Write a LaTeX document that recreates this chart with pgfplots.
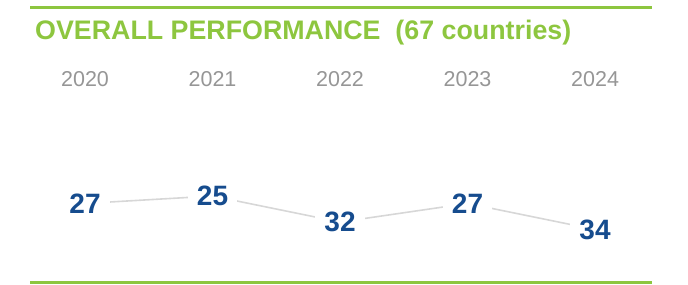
\documentclass[border=0pt]{standalone}
\usepackage{pgfplots}
\pgfplotsset{compat=1.18}
\usepackage{fontspec}
\setmainfont{Liberation Sans}
\definecolor{tgreen}{RGB}{141,198,63}
\definecolor{tblue}{RGB}{22,76,142}
\definecolor{ygray}{RGB}{150,150,150}
\definecolor{lgray}{RGB}{215,215,215}
\begin{document}
\begin{tikzpicture}
\begin{axis}[
  at={(0,0)}, anchor=south west,
  scale only axis, width=688bp, height=285bp,
  hide axis, clip=false,
  xmin=-0.6667, xmax=4.729,
  y dir=reverse, ymin=-27.69, ymax=48.92,
  /pgf/number format/assume math mode=true,
]
\addplot[color=lgray, line width=1.6bp,
  nodes near coords,
  every node near coord/.append style={anchor=center, fill=white, inner xsep=9bp, inner ysep=3bp,
    text=tblue, font=\fontsize{28bp}{30bp}\selectfont\bfseries},
] coordinates {(0,27) (1,25) (2,32) (3,27) (4,34)};
\foreach \i/\yr in {0/2020,1/2021,2/2022,3/2023,4/2024}{
  \edef\tmp{\noexpand\node[anchor=base, text=ygray, font=\noexpand\fontsize{21.5bp}{24bp}\noexpand\selectfont] at (axis cs:\i,-4.57) {\yr};}
  \tmp
}
\end{axis}
\draw[tgreen, line width=3bp] (30bp,277.5bp) -- (652bp,277.5bp);
\draw[tgreen, line width=3bp] (30bp,2bp) -- (652bp,2bp);
\node[anchor=base west, inner sep=0pt, text=tgreen, font=\fontsize{26.8bp}{28bp}\selectfont\bfseries] at (35bp,245.5bp) {OVERALL PERFORMANCE\ \ (67 countries)};
\path (0,0) rectangle (688bp,285bp);
\end{tikzpicture}
\end{document}
